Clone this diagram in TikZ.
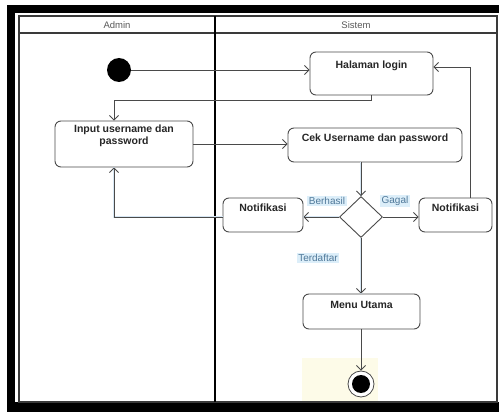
\documentclass[tikz,border=0pt]{standalone}
\usepackage{fontspec}
\setmainfont{Liberation Sans}
\usetikzlibrary{shapes.geometric,arrows.meta,calc}

\definecolor{edgegray}{HTML}{4A4A4A}
\definecolor{lanegray}{HTML}{3A3A3A}
\definecolor{halo}{HTML}{D6E6F3}
\definecolor{labelbg}{HTML}{DCEEF9}
\definecolor{labelfg}{HTML}{4F7899}
\definecolor{paleyellow}{HTML}{FDFBE8}

\tikzset{
  actbox/.style={draw=edgegray, line width=0.9pt, rounded corners=6pt, fill=white,
    inner sep=0pt},
  acttext/.style={font=\fontsize{10.5}{12}\selectfont\bfseries, text=black!85,
    align=center, inner sep=0pt},
  lanetext/.style={font=\fontsize{9.5}{10}\selectfont, text=black!65, inner sep=0pt},
  guard/.style={font=\fontsize{10}{11}\selectfont, text=labelfg, fill=labelbg,
    inner xsep=1.5pt, inner ysep=1pt},
  flow/.style={draw=edgegray, line width=0.9pt,
    -{Straight Barb[length=4.5pt,width=9pt,line width=0.9pt]}},
  glowflow/.style={flow, preaction={draw=halo, line width=2.6pt, -}},
}

\begin{document}
\begin{tikzpicture}[x=1pt, y=-1pt]
\useasboundingbox (0,0) rectangle (499,412);

% outer frame
\fill[black] (7,5) rectangle (499,412);
\fill[white] (15,13) rectangle (499,402);
\fill[paleyellow] (302,358) rectangle (378,402);

% swimlanes
\draw[lanegray, line width=1.1pt] (19,16) rectangle (497,402);
\draw[lanegray, line width=1.1pt] (19,33) -- (497,33);
\draw[black, line width=1.3pt] (215,16) -- (215,402);
\node[lanetext] (laneA) at (117,25) {Admin};
\node[lanetext] (laneS) at (356,25) {Sistem};

% activity nodes
\node[circle, fill=black, minimum size=24pt, inner sep=0pt] (start) at (119,70) {};

\node[actbox, minimum width=123pt, minimum height=43pt] (login) at (371.5,73.5) {};
\node[acttext] (loginT) at (371.5,66) {Halaman login};

\node[actbox, minimum width=138pt, minimum height=46pt] (input) at (124,144) {};
\node[acttext] (inputT) at (124,136) {Input username dan\\password};

\node[actbox, minimum width=174pt, minimum height=34pt] (cek) at (375,145) {};
\node[acttext] (cekT) at (375,139) {Cek Username dan password};

\node[diamond, draw=edgegray, line width=0.9pt, fill=white, inner sep=0pt,
      minimum width=43pt, minimum height=41pt] (dec) at (361,217) {};

\node[actbox, minimum width=80pt, minimum height=34pt] (notL) at (263,215) {};
\node[acttext] (notLT) at (263,208) {Notifikasi};

\node[actbox, minimum width=73pt, minimum height=34pt] (notR) at (455.5,215) {};
\node[acttext] (notRT) at (455.5,208) {Notifikasi};

\node[actbox, minimum width=117pt, minimum height=35pt] (menu) at (361.5,311.5) {};
\node[acttext] (menuT) at (361.5,305) {Menu Utama};

\node[circle, draw=edgegray, line width=0.8pt, fill=white, minimum size=26pt,
      inner sep=0pt] (end) at (361,384) {};
\node[circle, fill=black, minimum size=18pt, inner sep=0pt] (endDot) at (end.center) {};

% control flows
\draw[flow] (start.east) -- (start.east -| login.west);
\draw[flow] (login.south) -- ++(0,5) -| ([xshift=-10pt]input.north);
\draw[flow] (input.east) -- (input.east -| cek.west);
\draw[glowflow] (dec.north |- cek.south) -- (dec.north);
\draw[glowflow] (dec.west) -- (dec.west -| notL.east);
\draw[flow] (dec.east) -- (dec.east -| notR.west);
\draw[glowflow] (dec.west -| notL.west) -| ([xshift=-10pt]input.south);
\draw[flow] ([xshift=14.5pt]notR.north) |- ([yshift=6.5pt]login.east);
\draw[glowflow] (dec.south) -- (dec.south |- menu.north);
\draw[flow] (end.north |- menu.south) -- (end.north);

% guards
\node[guard] (gBerhasil) at (327,201) {Berhasil};
\node[guard] (gGagal) at (395,201) {Gagal};
\node[guard] (gTerdaftar) at (318,258) {Terdaftar};
\end{tikzpicture}
\end{document}
